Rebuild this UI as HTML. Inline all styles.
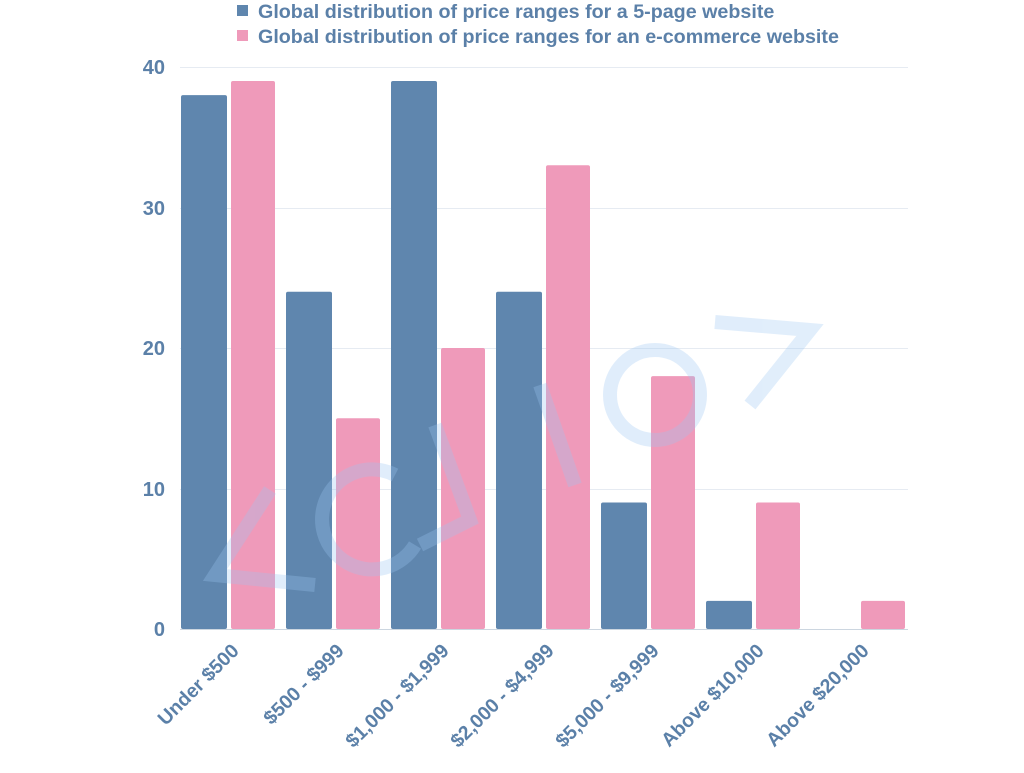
<!DOCTYPE html>
<html><head><meta charset="utf-8"><style>
html,body{margin:0;padding:0;background:#fff;}
svg text{font-family:"Liberation Sans",sans-serif;font-weight:bold;fill:#5b80a8;}
</style></head><body>
<svg width="1024" height="768" xmlns="http://www.w3.org/2000/svg">
<rect x="237" y="5" width="11" height="11" fill="#5f86ae"/>
<text x="258" y="18" font-size="19.7">Global distribution of price ranges for a 5-page website</text>
<rect x="237" y="30" width="11" height="11" fill="#ef9aba"/>
<text x="258" y="43" font-size="19.7">Global distribution of price ranges for an e-commerce website</text>
<g stroke="#e6ebf2" stroke-width="1">
<line x1="180" x2="908" y1="67.5" y2="67.5"/>
<line x1="180" x2="908" y1="208.5" y2="208.5"/>
<line x1="180" x2="908" y1="348.5" y2="348.5"/>
<line x1="180" x2="908" y1="489.5" y2="489.5"/>
</g>
<g font-size="20" text-anchor="end">
<text x="165" y="74">40</text>
<text x="165" y="215">30</text>
<text x="165" y="355">20</text>
<text x="165" y="496">10</text>
<text x="165" y="636">0</text>
</g>
<g fill="#5f86ae">
<rect x="181" y="95.1" width="46" height="533.9" rx="2"/>
<rect x="286" y="291.8" width="46" height="337.2" rx="2"/>
<rect x="391" y="81" width="46" height="548" rx="2"/>
<rect x="496" y="291.8" width="46" height="337.2" rx="2"/>
<rect x="601" y="502.5" width="46" height="126.5" rx="2"/>
<rect x="706" y="600.9" width="46" height="28.1" rx="2"/>
</g>
<g fill="#ef9aba">
<rect x="231" y="81" width="44" height="548" rx="2"/>
<rect x="336" y="418.2" width="44" height="210.8" rx="2"/>
<rect x="441" y="348" width="44" height="281" rx="2"/>
<rect x="546" y="165.3" width="44" height="463.7" rx="2"/>
<rect x="651" y="376.1" width="44" height="252.9" rx="2"/>
<rect x="756" y="502.5" width="44" height="126.5" rx="2"/>
<rect x="861" y="600.9" width="44" height="28.1" rx="2"/>
</g>
<g opacity="0.3" fill="none" stroke="#9cc7f2" stroke-width="14">
<path d="M715 322 L810 330 L750 405"/>
<circle cx="655" cy="395" r="45"/>
<path d="M540 385 L575 485"/>
<path d="M435 425 L470 520 L420 545"/>
<path d="M395 475 A50 50 0 1 0 415 545"/>
<path d="M270 490 L215 575 L315 585"/>
</g>
<line x1="180" x2="908" y1="629.5" y2="629.5" stroke="#ccd6e0"/>
<g font-size="19.5" text-anchor="end">
<text transform="translate(240,652) rotate(-45)">Under $500</text>
<text transform="translate(345,652) rotate(-45)">$500 - $999</text>
<text transform="translate(450,652) rotate(-45)">$1,000 - $1,999</text>
<text transform="translate(555,652) rotate(-45)">$2,000 - $4,999</text>
<text transform="translate(660,652) rotate(-45)">$5,000 - $9,999</text>
<text transform="translate(765,652) rotate(-45)">Above $10,000</text>
<text transform="translate(870,652) rotate(-45)">Above $20,000</text>
</g>
</svg>
</body></html>
